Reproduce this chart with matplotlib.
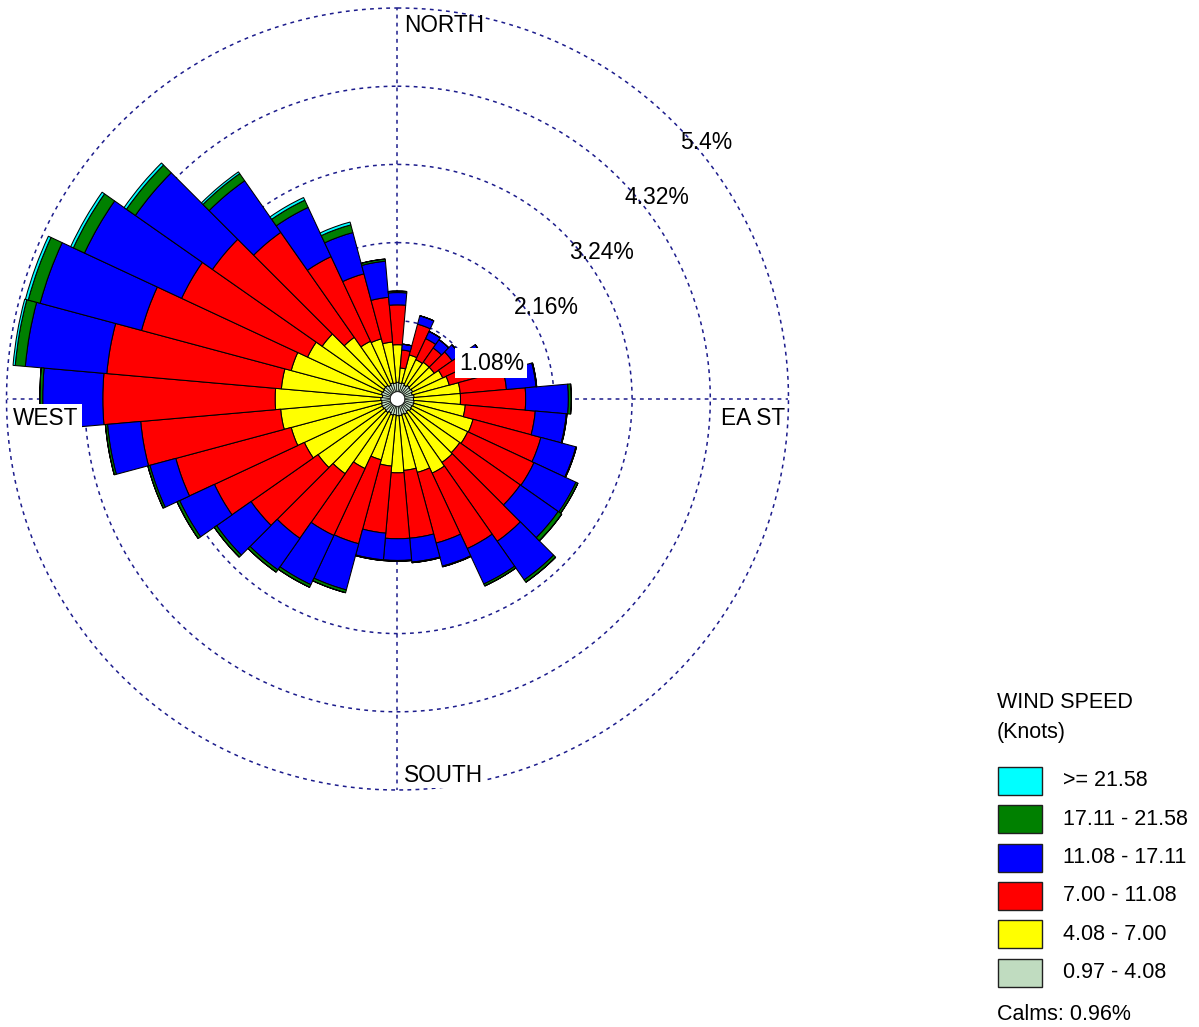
import numpy as np
import matplotlib
matplotlib.use("Agg")
import matplotlib.pyplot as plt
from matplotlib.patches import Rectangle
import matplotlib.transforms as mtransforms

plt.rcParams['font.family'] = ['Liberation Sans', 'DejaVu Sans']

# ---------------- data (percent frequency per band) ----------------
directions = np.arange(0, 360, 10)  # compass degrees
calm_pct = 0.96
ring_values = [1.08, 2.16, 3.24, 4.32, 5.4]
ring_labels = ["1.08%", "2.16%", "3.24%", "4.32%", "5.4%"]
band_labels = [">= 21.58", "17.11 - 21.58", "11.08 - 17.11",
               "7.00 - 11.08", "4.08 - 7.00", "0.97 - 4.08"]

gray = [0.13, 0.12, 0.13, 0.11, 0.13, 0.12, 0.13, 0.11, 0.13, 0.12, 0.13, 0.13,
        0.12, 0.13, 0.11, 0.13, 0.12, 0.13, 0.13, 0.12, 0.13, 0.11, 0.13, 0.12,
        0.13, 0.13, 0.12, 0.13, 0.11, 0.13, 0.12, 0.13, 0.13, 0.11, 0.13, 0.12]
yellow = [0.52, 0.21, 0.40, 0.39, 0.39, 0.40, 0.46, 0.53, 0.64, 0.65, 0.71, 0.85,
          0.85, 0.82, 0.86, 0.90, 0.83, 0.76, 0.79, 0.71, 0.64, 0.85, 1.03, 1.12,
          1.19, 1.29, 1.40, 1.46, 1.40, 1.29, 1.15, 1.04, 0.81, 0.67, 0.63, 0.57]
red = [0.55, 0.25, 0.44, 0.32, 0.24, 0.30, 0.44, 0.46, 0.64, 0.90, 0.97, 0.97,
       1.01, 1.02, 1.33, 1.15, 1.01, 0.94, 0.91, 0.93, 1.20, 1.02, 1.09, 1.13,
       1.37, 1.65, 1.94, 2.38, 2.42, 2.14, 1.92, 1.85, 1.77, 1.29, 0.93, 0.62]
blue = [0.17, 0.08, 0.12, 0.11, 0.14, 0.14, 0.18, 0.19, 0.41, 0.59, 0.43, 0.50,
        0.64, 0.64, 0.65, 0.54, 0.33, 0.33, 0.30, 0.37, 0.66, 0.75, 0.53, 0.58,
        0.53, 0.37, 0.46, 0.83, 1.13, 1.45, 1.48, 1.30, 0.87, 0.75, 0.59, 0.50]
green = [0.02, 0.00, 0.00, 0.00, 0.00, 0.00, 0.00, 0.00, 0.01, 0.04, 0.01, 0.01,
         0.03, 0.06, 0.04, 0.03, 0.01, 0.01, 0.01, 0.01, 0.04, 0.04, 0.04, 0.04,
         0.04, 0.03, 0.03, 0.04, 0.14, 0.17, 0.17, 0.15, 0.12, 0.11, 0.11, 0.03]
cyan = [0.00, 0.00, 0.00, 0.00, 0.00, 0.00, 0.00, 0.00, 0.00, 0.00, 0.00, 0.00,
        0.00, 0.00, 0.00, 0.00, 0.00, 0.00, 0.00, 0.00, 0.00, 0.00, 0.00, 0.00,
        0.00, 0.00, 0.00, 0.00, 0.03, 0.04, 0.04, 0.04, 0.03, 0.04, 0.04, 0.00]

band_values = [gray, yellow, red, blue, green, cyan]
band_colors = ["#C0DCC0", "#FFFF00", "#FF0000", "#0000FF", "#008000", "#00FFFF"]
hole = 0.10  # radius of the calm circle

# ---------------- figure ----------------
W, H = 1199, 1027
fig = plt.figure(figsize=(W / 100, H / 100), dpi=100)
cx, cy, R = 397.5, 399.0, 391.0
ax = fig.add_axes([(cx - R) / W, (H - cy - R) / H, 2 * R / W, 2 * R / H],
                  projection='polar')
ax.set_theta_zero_location('N')
ax.set_theta_direction(-1)
ax.set_ylim(0, ring_values[-1])
ax.grid(False)
ax.set_xticks([])
ax.set_yticks([])
ax.spines['polar'].set_visible(False)
ax.patch.set_alpha(0)

grid_color = "#1c1c8c"
dash = (0, (2.5, 2.8))
tt = np.linspace(0, 2 * np.pi, 721)
for rv in ring_values:
    ax.plot(tt, np.full_like(tt, rv), color=grid_color, lw=1.1,
            linestyle=dash, zorder=1, clip_on=False)
for ang in [0, 90, 180, 270]:
    ax.plot([np.deg2rad(ang)] * 2, [0, ring_values[-1]], color=grid_color,
            lw=1.1, linestyle=dash, zorder=1, clip_on=False)

# white calm circle in the middle
ax.fill_between(tt, 0, hole, color='white', zorder=2, linewidth=0)

theta = np.deg2rad(directions)
width = np.deg2rad(10)
bottom = np.full(len(directions), hole)
for k, (vals, col) in enumerate(zip(band_values, band_colors)):
    v = np.array(vals)
    ax.bar(theta, v, width=width, bottom=bottom, color=col,
           edgecolor='black', linewidth=0.45 if k == 0 else 0.75,
           zorder=3 + 0.01 * k, align='center')
    bottom = bottom + v

# ring labels (placed along the 45 degree line, right/below of ring)
for rv, lab in zip(ring_values, ring_labels):
    tr = mtransforms.offset_copy(ax.transData, fig=fig, x=6, y=-8, units='dots')
    bb = dict(facecolor='white', edgecolor='none', pad=2.5) if rv == ring_values[0] else None
    ax.text(np.deg2rad(45), rv, lab, transform=tr, ha='left', va='top',
            fontsize=16.5, color='black', zorder=6, bbox=bb, clip_on=False)

def fx(x):
    return x / W

def fy(y):
    return 1 - y / H

txt_kw = dict(fontsize=16.3, color='black')
fig.text(fx(404), fy(14), "NORTH", ha='left', va='top', **txt_kw)
fig.text(fx(404), fy(764), "SOUTH", ha='left', va='top', zorder=6,
         bbox=dict(facecolor='white', edgecolor='none', pad=0.5), **txt_kw)
fig.text(fx(13), fy(407), "WEST", ha='left', va='top', zorder=6,
         bbox=dict(facecolor='white', edgecolor='none', pad=2.5), **txt_kw)
fig.text(fx(721), fy(407), "EA ST", ha='left', va='top', **txt_kw)

# ---------------- legend ----------------
leg_fs = 15.5
fig.text(fx(997), fy(692), "WIND SPEED", ha='left', va='top', fontsize=leg_fs)
fig.text(fx(997), fy(722), "(Knots)", ha='left', va='top', fontsize=leg_fs)
legend_colors = band_colors[::-1]
for i, (lab, col) in enumerate(zip(band_labels, legend_colors)):
    top = 767 + i * 38.3
    fig.patches.append(Rectangle((fx(998), fy(top + 28)), 44 / W, 28 / H,
                                 transform=fig.transFigure, facecolor=col,
                                 edgecolor='#202020', linewidth=1.0))
    fig.text(fx(1063), fy(top + 14), lab, ha='left', va='center', fontsize=leg_fs)
fig.text(fx(997), fy(1004), f"Calms: {calm_pct:.2f}%", ha='left', va='top',
         fontsize=leg_fs)

fig.savefig("out.png", dpi=100, facecolor='white')
